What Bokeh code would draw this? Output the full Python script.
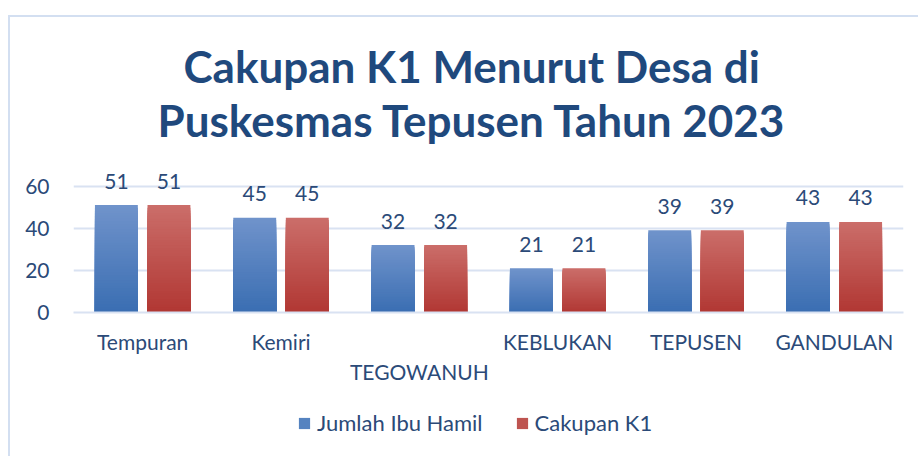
from bokeh.plotting import figure
from bokeh.layouts import column
from bokeh.models import (ColumnDataSource, LabelSet, Legend, LegendItem, Range1d,
                          FixedTicker, Title, Spacer)
from bokeh.core.properties import value
from bokeh.transform import dodge
from bokeh.embed import file_html
from bokeh.resources import INLINE

categories = ["Tempuran", "Kemiri", "TEGOWANUH", "KEBLUKAN", "TEPUSEN", "GANDULAN"]
jumlah_ibu_hamil = [51, 45, 32, 21, 39, 43]
cakupan_k1 = [51, 45, 32, 21, 39, 43]
series_names = ["Jumlah Ibu Hamil", "Cakupan K1"]
y_ticks = [0, 20, 40, 60]
title_lines = ["Cakupan K1 Menurut Desa di", "Puskesmas Tepusen Tahun 2023"]

FONT = "Lato"
TXT = "#2B4A78"
TITLE_C = "#1F497D"
GRID_C = "#D9E2F2"
FRAME_C = "#D3DFF1"
BLUE_TOP, BLUE_BOT = (112, 147, 203), (58, 110, 178)
RED_TOP, RED_BOT = (203, 110, 106), (177, 55, 51)
BLUE_MID, RED_MID = "#5583C0", "#BE5450"
N = 40

def mix(a, b, t):
    return "#%02x%02x%02x" % tuple(int(round(a[i] + (b[i] - a[i]) * t)) for i in range(3))

def nested(values, offset, top_c, bot_c):
    xs, tops, cols = [], [], []
    for i, v in enumerate(values):
        for k in range(N, 0, -1):
            xs.append(i + offset)
            tops.append(v * k / N)
            cols.append(mix(bot_c, top_c, (k - 0.5) / N))
    return ColumnDataSource(dict(x=xs, top=tops, color=cols))

def blank(h):
    f = figure(width=918, height=h, output_backend="svg", toolbar_location=None,
               x_axis_location=None, y_axis_location=None,
               x_range=Range1d(0, 1), y_range=Range1d(0, 1),
               min_border_left=73, min_border_right=15, min_border_top=0, min_border_bottom=0)
    f.grid.visible = False
    f.outline_line_color = None
    f.border_fill_color = None
    f.background_fill_color = None
    return f

# ---- title strip
tf = blank(113)
tf.title.text = title_lines[0]
tf.title.align = "left"
tf.title.text_font = FONT
tf.title.text_font_size = "44px"
tf.title.text_font_style = "bold"
tf.title.text_color = TITLE_C
tf.title.offset = 110
tf.title.standoff = 0
tf.add_layout(Title(text=title_lines[1], align="left", text_font=FONT, text_font_size="44px",
                    text_font_style="bold", text_color=TITLE_C, offset=84, standoff=0), "above")

# ---- main chart
p = figure(width=918, height=245, output_backend="svg", toolbar_location=None,
           x_range=Range1d(-0.5, 5.5), y_range=Range1d(0, 66),
           min_border_left=73, min_border_right=15, min_border_top=23, min_border_bottom=83)
p.outline_line_color = None
p.background_fill_color = "white"
p.border_fill_color = None

W = 0.31
OFF = 0.19
src_b = nested(jumlah_ibu_hamil, -OFF, BLUE_TOP, BLUE_BOT)
src_r = nested(cakupan_k1, OFF, RED_TOP, RED_BOT)
p.vbar(x="x", bottom=0, top="top", width=W, source=src_b, fill_color="color", line_color=None)
p.vbar(x="x", bottom=0, top="top", width=W, source=src_r, fill_color="color", line_color=None)

lab_src = ColumnDataSource(dict(x=list(range(len(categories))),
                                a=jumlah_ibu_hamil, b=cakupan_k1,
                                ta=[str(v) for v in jumlah_ibu_hamil],
                                tb=[str(v) for v in cakupan_k1]))
for col, txt, off in [("a", "ta", -OFF), ("b", "tb", OFF)]:
    p.add_layout(LabelSet(x=dodge("x", off, range=p.x_range), y=col, text=txt, source=lab_src,
                          y_offset=24, text_align="center", text_baseline="middle",
                          text_font=value(FONT), text_font_size=value("21px"),
                          text_color=value(TXT)))

p.xaxis.ticker = FixedTicker(ticks=list(range(len(categories))))
overrides = {}
for i, c in enumerate(categories):
    overrides[i] = ("\n" + c) if i == 2 else c
p.xaxis.major_label_overrides = overrides
p.xaxis.axis_line_color = GRID_C
p.xaxis.axis_line_width = 2
p.xaxis.major_tick_line_color = None
p.xaxis.minor_tick_line_color = None
p.xaxis.major_label_text_font = FONT
p.xaxis.major_label_text_font_size = "21px"
p.xaxis.major_label_text_color = TXT
p.xaxis.major_label_standoff = 10

p.yaxis.ticker = FixedTicker(ticks=y_ticks)
p.yaxis.axis_line_color = None
p.yaxis.major_tick_line_color = None
p.yaxis.minor_tick_line_color = None
p.yaxis.major_label_text_font = FONT
p.yaxis.major_label_text_font_size = "21px"
p.yaxis.major_label_text_color = TXT
p.yaxis.major_label_standoff = 18

p.xgrid.grid_line_color = None
p.ygrid.ticker = FixedTicker(ticks=y_ticks)
p.ygrid.grid_line_color = GRID_C
p.ygrid.grid_line_width = 2

# ---- legend strip (sample renderers of zero height, only their swatches show)
lg = blank(61)
swatch_b = ColumnDataSource(dict(x=[0.5], top=[0]))
swatch_r = ColumnDataSource(dict(x=[0.5], top=[0]))
lb = lg.vbar(x="x", bottom=0, top="top", width=W, source=swatch_b, fill_color=BLUE_MID, line_color=None)
lr = lg.vbar(x="x", bottom=0, top="top", width=W, source=swatch_r, fill_color=RED_MID, line_color=None)
legend = Legend(items=[LegendItem(label=series_names[0], renderers=[lb], index=0),
                       LegendItem(label=series_names[1], renderers=[lr], index=0)],
                orientation="horizontal", location=(224, 20), padding=0, margin=0,
                label_text_font=FONT, label_text_font_size="22px", label_text_color=TXT,
                glyph_width=14, glyph_height=14, label_standoff=6, spacing=32,
                border_line_color=None, background_fill_alpha=0)
lg.add_layout(legend, "center")

frame_bg = ("linear-gradient(%s,%s) 8px 15px / 2px 441px no-repeat, "
            "linear-gradient(%s,%s) 8px 15px / 910px 2px no-repeat, white") % ((FRAME_C,) * 4)
layout = column(Spacer(width=918, height=37), tf, p, lg, spacing=0,
                styles={"background": frame_bg})

open("out.html", "w").write(file_html(layout, INLINE))
